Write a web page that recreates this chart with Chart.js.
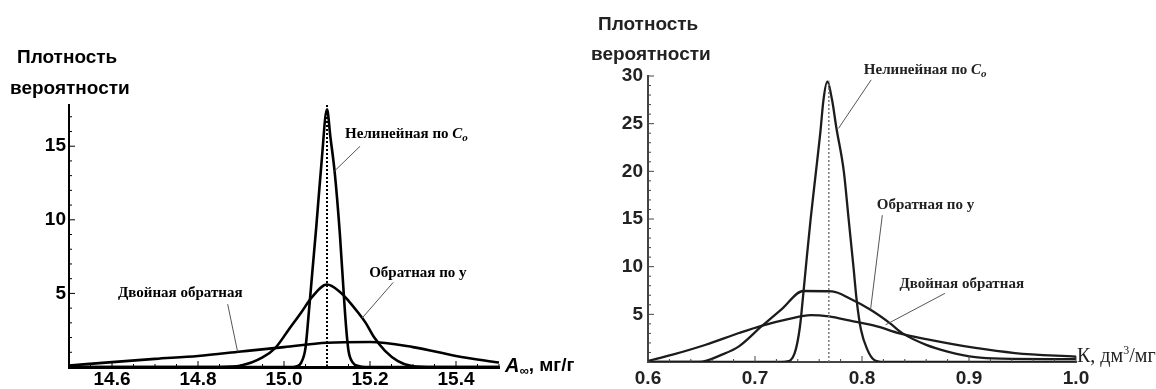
<!DOCTYPE html>
<html>
<head>
<meta charset="utf-8">
<script src="https://cdn.jsdelivr.net/npm/chart.js@4.4.1/dist/chart.umd.min.js"></script>
<style>
    html, body { margin: 0; padding: 0; background: #fff; }
    #wrap { position: relative; width: 1156px; height: 389px; overflow: hidden; }
    .box { position: absolute; top: 0; width: 578px; height: 389px; }
    #leftBox { left: 0; }
    #rightBox { left: 578px; }
</style>
</head>
<body>
<div id="wrap">
    <div class="box" id="leftBox"><canvas id="leftChart"></canvas></div>
    <div class="box" id="rightBox"><canvas id="rightChart"></canvas></div>
</div>
<script>
// Left panel: A∞, мг/г
const leftNonlinX = [14.5, 15.02, 15.03, 15.04, 15.05, 15.058, 15.066, 15.075, 15.087, 15.1, 15.108, 15.118, 15.13, 15.14, 15.145, 15.15, 15.16, 15.175, 15.19, 15.5];
const leftNonlinY = [0, 0, 0.05, 0.3, 1.3, 3.8, 6.5, 9.5, 13.8, 17.5, 15.6, 13.2, 9.0, 4.5, 2.5, 1.1, 0.3, 0.05, 0, 0];

const leftInvYX = [14.5, 14.85, 14.9, 14.95, 14.98, 15.01, 15.04, 15.065, 15.1, 15.13, 15.15, 15.175, 15.19, 15.21, 15.235, 15.265, 15.3, 15.35, 15.5];
const leftInvYY = [0, 0, 0.1, 0.65, 1.3, 2.5, 3.7, 4.75, 5.6, 5.1, 4.5, 3.6, 3.0, 2.0, 1.1, 0.4, 0.05, 0, 0];

const leftDoubleX = [14.5, 14.6, 14.7, 14.8, 14.9, 15.0, 15.1, 15.2, 15.3, 15.4, 15.5];
const leftDoubleY = [0.1, 0.33, 0.55, 0.75, 1.05, 1.35, 1.65, 1.7, 1.35, 0.75, 0.3];

const leftPeak = 15.1;

// Right panel: К, дм³/мг
const rightNonlinX = [0.6, 0.72, 0.729, 0.737, 0.742, 0.745, 0.748, 0.752, 0.757, 0.761, 0.764, 0.7675, 0.772, 0.776, 0.783, 0.7875, 0.792, 0.795, 0.799, 0.805, 0.811, 0.82, 1.0];
const rightNonlinY = [0, 0, 0.05, 0.9, 3.7, 7.0, 10.5, 15.0, 20.0, 24.0, 27.5, 29.4, 27.5, 24.6, 20.0, 15.0, 10.0, 6.5, 3.4, 1.3, 0.25, 0, 0];

const rightInvYX = [0.6, 0.648, 0.669, 0.685, 0.706, 0.725, 0.745, 0.772, 0.789, 0.808, 0.826, 0.838, 0.86, 0.88, 0.906, 0.93, 1.0];
const rightInvYY = [0, 0, 0.77, 1.64, 3.73, 5.55, 7.45, 7.4, 6.64, 5.48, 4.08, 3.0, 1.8, 1.1, 0.5, 0.35, 0.3];

const rightDoubleX = [0.6, 0.623, 0.654, 0.685, 0.706, 0.731, 0.752, 0.769, 0.789, 0.814, 0.835, 0.86, 0.906, 0.943, 1.0];
const rightDoubleY = [0.1, 0.77, 1.81, 3.04, 3.8, 4.5, 4.92, 4.78, 4.33, 3.73, 3.0, 2.4, 1.47, 0.94, 0.55];

const rightPeak = 0.769;

const toPoints = (xs, ys) => xs.map((x, i) => ({ x: x, y: ys[i] }));
const isMultiple = (v, step) => Math.abs(v / step - Math.round(v / step)) < 1e-6;

// draws text made of pieces: [text, fontStyle, size, family, shiftY]
function drawParts(ctx, parts, x, y, color) {
    ctx.fillStyle = color;
    ctx.textBaseline = "middle";
    ctx.textAlign = "left";
    parts.forEach(p => {
        ctx.font = p[1] + " " + p[2] + "px " + p[3];
        ctx.fillText(p[0], x, y + (p[4] || 0));
        x += ctx.measureText(p[0]).width;
    });
}

const SERIF = '"Liberation Serif", "Times New Roman", serif';
const SANS = '"Liberation Sans", Arial, sans-serif';

// Titles, notes, axis names and inward ticks
const panelDecor = {
    id: "panelDecor",
    afterDraw(chart, args, opts) {
        const { ctx, chartArea } = chart;
        const xs = chart.scales.x;
        const ys = chart.scales.y;
        ctx.save();

        // inward ticks
        ctx.strokeStyle = opts.axisColor;
        ctx.lineWidth = 1;
        xs.ticks.forEach(t => {
            const px = xs.getPixelForValue(t.value);
            const len = t.label ? 6 : 3;
            ctx.beginPath();
            ctx.moveTo(px, chartArea.bottom);
            ctx.lineTo(px, chartArea.bottom - len);
            ctx.stroke();
        });
        ys.ticks.forEach(t => {
            const py = ys.getPixelForValue(t.value);
            const len = t.label ? 6 : 3;
            ctx.beginPath();
            ctx.moveTo(chartArea.left, py);
            ctx.lineTo(chartArea.left + len, py);
            ctx.stroke();
        });

        // y title
        ctx.fillStyle = opts.textColor;
        ctx.font = "bold 19px " + SANS;
        ctx.textBaseline = "middle";
        ctx.fillText("Плотность", opts.titleX[0], opts.titleY[0]);
        ctx.fillText("вероятности", opts.titleX[1], opts.titleY[1]);

        // notes with pointer lines
        opts.notes.forEach(n => {
            ctx.strokeStyle = opts.pointerColor;
            ctx.lineWidth = 1;
            ctx.beginPath();
            ctx.moveTo(xs.getPixelForValue(n.from[0]), ys.getPixelForValue(n.from[1]));
            ctx.lineTo(xs.getPixelForValue(n.to[0]), ys.getPixelForValue(n.to[1]));
            ctx.stroke();
            drawParts(ctx, n.parts, xs.getPixelForValue(n.at[0]), ys.getPixelForValue(n.at[1]), opts.textColor);
        });

        // x axis name
        drawParts(ctx, opts.axisName, chartArea.right + opts.axisNameDx, chartArea.bottom + opts.axisNameDy, opts.textColor);
        ctx.restore();
    }
};

function makeScales(cfg) {
    return {
        x: {
            type: "linear",
            min: cfg.xMin,
            max: cfg.xMax,
            grid: { drawOnChartArea: false, drawTicks: false },
            border: { display: true, color: cfg.axisColor, width: cfg.xBorder },
            ticks: {
                stepSize: cfg.xMinor,
                autoSkip: false,
                maxRotation: 0,
                includeBounds: false,
                padding: cfg.xPad,
                color: cfg.labelColor,
                font: { family: SANS, size: 19, weight: "bold" },
                callback: v => isMultiple(v, cfg.xMajor) ? v.toFixed(1) : ""
            },
            afterFit: s => { s.height = cfg.xHeight; s.paddingLeft = 0; s.paddingRight = 0; }
        },
        y: {
            type: "linear",
            min: 0,
            max: cfg.yMax,
            grid: { drawOnChartArea: false, drawTicks: false },
            border: { display: true, color: cfg.axisColor, width: 2 },
            ticks: {
                stepSize: 1,
                autoSkip: false,
                includeBounds: false,
                padding: cfg.yPad,
                color: cfg.labelColor,
                font: { family: SANS, size: 19, weight: "bold" },
                callback: v => (v !== 0 && isMultiple(v, 5)) ? String(v) : ""
            },
            afterFit: s => { s.width = cfg.yWidth; s.paddingTop = 0; s.paddingBottom = 0; }
        }
    };
}

function curve(xs, ys, color, width) {
    return {
        data: toPoints(xs, ys),
        borderColor: color,
        borderWidth: width,
        pointRadius: 0,
        fill: false,
        cubicInterpolationMode: "monotone"
    };
}

function peakLine(x, top, color, width, dash) {
    return {
        data: [{ x: x, y: 0 }, { x: x, y: top }],
        borderColor: color,
        borderWidth: width,
        borderDash: dash,
        pointRadius: 0,
        fill: false
    };
}

// Left chart
new Chart(document.getElementById("leftChart"), {
    type: "line",
    data: {
        datasets: [
            peakLine(leftPeak, 17.8, "#000", 2, [2, 2]),
            curve(leftDoubleX, leftDoubleY, "#000", 2.6),
            curve(leftInvYX, leftInvYY, "#000", 2.6),
            curve(leftNonlinX, leftNonlinY, "#000", 2.6)
        ]
    },
    options: {
        responsive: true,
        maintainAspectRatio: false,
        animation: false,
        layout: { padding: { top: 105, right: 79, bottom: 0, left: 0 } },
        plugins: {
            legend: { display: false },
            tooltip: { enabled: false },
            panelDecor: {
                axisColor: "#000",
                textColor: "#000",
                pointerColor: "#555",
                titleX: [17, 10],
                titleY: [58, 89],
                notes: [
                    { at: [15.142, 15.8], from: [15.177, 15.0], to: [15.117, 13.3],
                      parts: [["Нелинейная по ", "bold", 15, SERIF], ["C", "bold italic", 15, SERIF], ["o", "bold italic", 11, SERIF, 4]] },
                    { at: [15.198, 6.39], from: [15.254, 5.75], to: [15.181, 3.3],
                      parts: [["Обратная по у", "bold", 15, SERIF]] },
                    { at: [14.614, 5.0], from: [14.869, 4.27], to: [14.892, 1.05],
                      parts: [["Двойная обратная", "bold", 15, SERIF]] }
                ],
                axisName: [["A", "italic bold", 20, SANS], ["∞", "bold", 13, SANS, 5], [", мг/г", "bold", 19, SANS]],
                axisNameDx: 6,
                axisNameDy: -1
            }
        },
        scales: makeScales({
            xMin: 14.5, xMax: 15.5, xMajor: 0.2, xMinor: 0.05, xBorder: 3,
            yMax: 17.8, yWidth: 69, xHeight: 22, xPad: 1, yPad: 3,
            axisColor: "#000", labelColor: "#000"
        })
    },
    plugins: [panelDecor]
});

// Right chart
new Chart(document.getElementById("rightChart"), {
    type: "line",
    data: {
        datasets: [
            peakLine(rightPeak, 29.5, "#777", 1.5, [2, 2]),
            curve(rightDoubleX, rightDoubleY, "#1c1c1c", 2.3),
            curve(rightInvYX, rightInvYY, "#1c1c1c", 2.3),
            curve(rightNonlinX, rightNonlinY, "#1c1c1c", 2.3)
        ]
    },
    options: {
        responsive: true,
        maintainAspectRatio: false,
        animation: false,
        layout: { padding: { top: 76, right: 80, bottom: 0, left: 0 } },
        plugins: {
            legend: { display: false },
            tooltip: { enabled: false },
            panelDecor: {
                axisColor: "#444",
                textColor: "#222",
                pointerColor: "#555",
                titleX: [20, 13],
                titleY: [25, 55],
                notes: [
                    { at: [0.8017, 30.6], from: [0.8086, 29.6], to: [0.778, 24.5],
                      parts: [["Нелинейная по ", "bold", 15, SERIF], ["C", "bold italic", 15, SERIF], ["o", "bold italic", 11, SERIF, 4]] },
                    { at: [0.8138, 16.5], from: [0.819, 15.4], to: [0.808, 5.5],
                      parts: [["Обратная по у", "bold", 15, SERIF]] },
                    { at: [0.835, 8.2], from: [0.8775, 7.2], to: [0.822, 3.9],
                      parts: [["Двойная обратная", "bold", 15, SERIF]] }
                ],
                axisName: [["К, дм", "normal", 20, SERIF], ["3", "normal", 12, SERIF, -6], ["/мг", "normal", 20, SERIF]],
                axisNameDx: 1,
                axisNameDy: -5
            }
        },
        scales: makeScales({
            xMin: 0.6, xMax: 1.0, xMajor: 0.1, xMinor: 0.02, xBorder: 2,
            yMax: 30, yWidth: 70, xHeight: 27, xPad: 5, yPad: 5,
            axisColor: "#444", labelColor: "#222"
        })
    },
    plugins: [panelDecor]
});
</script>
</body>
</html>
